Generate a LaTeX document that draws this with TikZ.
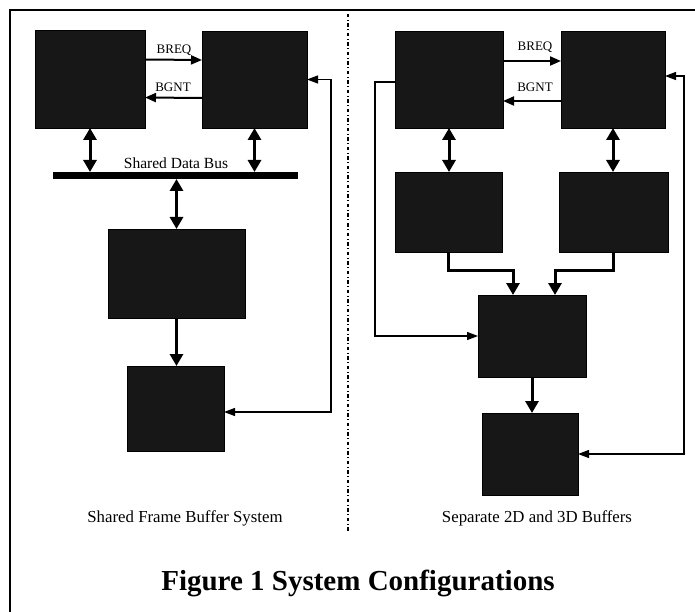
\documentclass[tikz,border=0pt]{standalone}
\usepackage{fontspec}
\setmainfont{Liberation Serif}
\usetikzlibrary{arrows.meta}
\begin{document}
\begin{tikzpicture}[x=1pt,y=-1pt,
  blk/.style={draw=black,fill=black!91,inner sep=0pt,outer sep=0pt,line width=0.6pt},
  bigarr/.style={line width=3pt,line join=miter,{Triangle[width=13pt,length=12pt]}-{Triangle[width=13pt,length=12pt]}},
  thkarr/.style={line width=3pt,line join=miter,-{Triangle[width=13pt,length=12pt]}},
  sigarr/.style={line width=2pt,-{Triangle[width=9pt,length=11pt]}},
  fbarr/.style={line width=1.3pt,line join=miter},
  tipend/.style={-{Triangle[width=8pt,length=11pt]}},
  lbl/.style={font=\fontsize{13}{15}\selectfont,inner sep=0pt},
  captxt/.style={font=\fontsize{16.8}{19}\selectfont,inner sep=0pt}]
\useasboundingbox (0,0) rectangle (695,612);
\fill[white] (0,0) rectangle (695,612);
% frame
\coordinate (fTL) at (10,10);
\coordinate (fTR) at (695,10);
\coordinate (fBL) at (10,612);
\draw[line width=1.8pt] (fBL) -- (fTL) -- (fTR);
% divider
\coordinate (dT) at (348,14);
\coordinate (dB) at (348,532);
\draw[line width=1.2pt,dash pattern=on 3.5pt off 2.5pt on 1pt off 2.5pt] (dT) -- (dB);

% ---------- left panel ----------
\node[blk,minimum width=110pt,minimum height=98pt] (A) at (90,79) {};
\node[blk,minimum width=105pt,minimum height=97pt] (B) at (254.5,79.5) {};
\node[fill=black,inner sep=0pt,outer sep=0pt,minimum width=245pt,minimum height=7pt] (bus) at (175.5,175.5) {};
\node[blk,minimum width=137pt,minimum height=89pt] (C) at (176.5,273.5) {};
\node[blk,minimum width=97pt,minimum height=85pt] (D) at (175.5,408.5) {};

\draw[sigarr] ([yshift=19.5pt]A.east) -- ([yshift=19.5pt]B.west);
\draw[sigarr] ([yshift=-18.5pt]B.west) -- ([yshift=-18.5pt]A.east);
\node[lbl] (breqL) at (174,50) {BREQ};
\node[lbl] (bgntL) at (173,87) {BGNT};
\node[font=\fontsize{15.5}{17}\selectfont,inner sep=0pt] (busL) at (176,163) {Shared Data Bus};

\draw[bigarr] (A.south) -- (A.south |- bus.north);
\draw[bigarr] (B.south) -- (B.south |- bus.north);
\draw[bigarr] (bus.south -| C.north) -- (C.north);
\draw[thkarr] (C.south) -- (C.south |- D.north);

\coordinate (fl) at (331,0);
\coordinate (Dp) at ([yshift=-3.5pt]D.east);
\draw[fbarr,tipend] (fl |- Dp) -- (fl |- B.east) -- (B.east);
\draw[fbarr,tipend] (fl |- B.east) -- (fl |- Dp) -- (Dp);

\node[captxt] (capL) at (185,518) {Shared Frame Buffer System};

% ---------- right panel ----------
\node[blk,minimum width=108pt,minimum height=97pt] (E) at (449,79.5) {};
\node[blk,minimum width=104pt,minimum height=97pt] (F) at (613,79.5) {};
\node[blk,minimum width=107pt,minimum height=80pt] (G) at (448.5,212) {};
\node[blk,minimum width=109pt,minimum height=80pt] (H) at (613.5,212) {};
\node[blk,minimum width=108pt,minimum height=82pt] (I) at (532,336) {};
\node[blk,minimum width=96pt,minimum height=82pt] (J) at (530,454) {};

\draw[sigarr] ([yshift=18.5pt]E.east) -- ([yshift=18.5pt]F.west);
\draw[sigarr] ([yshift=-21.5pt]F.west) -- ([yshift=-21.5pt]E.east);
\node[lbl] (breqR) at (535,47) {BREQ};
\node[lbl] (bgntR) at (535,87) {BGNT};

\draw[bigarr] (E.south) -- (E.south |- G.north);
\draw[bigarr] (F.south) -- (F.south |- H.north);

\coordinate (gi) at (513,270);
\coordinate (hi) at (555,270);
\draw[thkarr] (G.south) |- (gi) -- (gi |- I.north);
\draw[thkarr] (H.south) |- (hi) -- (hi |- I.north);
\draw[thkarr] (I.south) -- (I.south |- J.north);

\coordinate (fe) at (375,0);
\coordinate (Ep) at ([yshift=-2.5pt]E.west);
\draw[fbarr,tipend] (Ep) -| (fe |- I.west) -- (I.west);

\coordinate (fr) at (684,0);
\coordinate (Fp) at ([yshift=3.5pt]F.east);
\draw[fbarr,tipend] (fr |- J.east) -- (fr |- Fp) -- (Fp);
\draw[fbarr,tipend] (fr |- Fp) -- (fr |- J.east) -- (J.east);

\node[captxt] (capR) at (537,518) {Separate 2D and 3D Buffers};

% title
\node[font=\bfseries\fontsize{29}{33}\selectfont,inner sep=0pt] (title) at (358,583) {Figure 1 System Configurations};
\end{tikzpicture}
\end{document}
